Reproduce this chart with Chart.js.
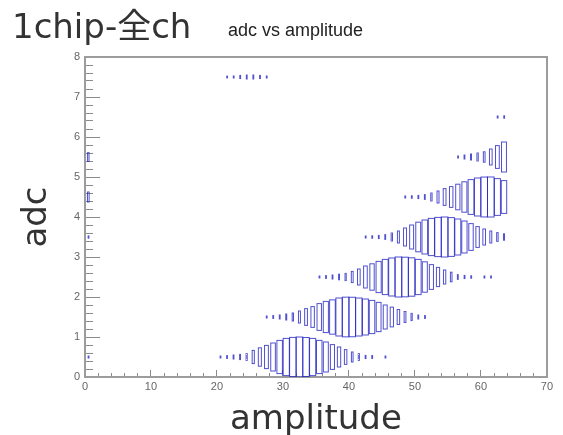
<!DOCTYPE html>
<html>
<head>
<meta charset="utf-8">
<script src="https://cdn.jsdelivr.net/npm/chart.js@4.4.0/dist/chart.umd.min.js"></script>
<style>
html, body { margin: 0; padding: 0; background: #fff; }
#wrap { position: relative; width: 563px; height: 435px; overflow: hidden; background: #fff; }
#wrap canvas { position: absolute; left: 0; top: 0; }
.slide-title { position: absolute; left: 12px; top: 9px; font: 34px/34px "DejaVu Sans", "Noto Sans CJK JP", sans-serif; color: #333; white-space: nowrap; }
.hist-title { position: absolute; left: 228px; top: 21px; font: 18px/18px "Liberation Sans", Arial, sans-serif; color: #222; white-space: nowrap; }
</style>
</head>
<body>
<div id="wrap">
  <canvas id="c" width="563" height="435"></canvas>
  <div class="slide-title">1chip-全ch</div>
  <div class="hist-title">adc vs amplitude</div>
</div>
<script>
// Axis ranges and labelled ticks
const amplitudeRange = [0, 70];
const adcRange = [0, 8];
const amplitudeTicks = [0, 10, 20, 30, 40, 50, 60, 70];
const adcTicks = [0, 1, 2, 3, 4, 5, 6, 7, 8];

// Histogram contents: first amplitude bin of each adc row (rows 0..7),
// followed by the counts in consecutive unit-wide amplitude bins.
const adcRowStart = [20, 27, 35, 42, 48, 56, 62, 21];
const adc0 = [4, 8, 16, 27, 46, 174, 339, 538, 784, 1102, 1384, 1537, 1600, 1522, 1384, 1102, 900, 615, 400, 219, 100, 46, 10, 8, 0, 4];
const adc1 = [4, 8, 16, 36, 64, 144, 282, 433, 718, 973, 1176, 1444, 1575, 1560, 1444, 1296, 1102, 855, 576, 390, 225, 120, 52, 16, 8];
const adc2 = [4, 8, 16, 31, 52, 125, 256, 484, 697, 973, 1239, 1444, 1600, 1568, 1475, 1239, 924, 615, 369, 196, 92, 23, 10, 6, 0, 4, 4];
const adc3 = [4, 6, 10, 23, 64, 144, 324, 576, 876, 1156, 1384, 1537, 1600, 1505, 1296, 1024, 718, 433, 256, 144, 77, 41];
const adc4 = [4, 6, 10, 23, 64, 144, 282, 433, 655, 924, 1211, 1444, 1590, 1600, 1354, 1076];
const adc5 = [4, 16, 36, 64, 108, 256, 520, 900];
const adc6 = [4, 6];
const adc7 = [3, 4, 10, 16, 16, 10, 4];
const adcRows = [adc0, adc1, adc2, adc3, adc4, adc5, adc6, adc7];
// Contents of amplitude bin 0 for adc rows 0..7
const amplitudeBin0 = [4, 0, 0, 5, 100, 77, 0, 0];

// One point per filled bin, at the bin centre
const binPoints = [];
adcRows.forEach((row, adc) => {
  row.forEach((count, k) => {
    if (count > 0) binPoints.push({ x: adcRowStart[adc] + k + 0.5, y: adc + 0.5, count });
  });
});
amplitudeBin0.forEach((count, adc) => {
  if (count > 0) binPoints.push({ x: 0.5, y: adc + 0.5, count });
});
const zMax = Math.max(...binPoints.map(p => p.count));

// Minor tick positions
const amplitudeMinor = Array.from({ length: 36 }, (_, i) => i * 2);
const adcMinor = Array.from({ length: 41 }, (_, i) => Math.round(i * 2) / 10);

// Box option: each bin drawn as a hollow box whose area scales with its content
const binBoxes = {
  id: 'binBoxes',
  afterDatasetsDraw(chart) {
    const { ctx, chartArea, scales } = chart;
    const xs = scales.x, ys = scales.y;
    const ds = chart.data.datasets[0];
    ctx.save();
    ctx.beginPath();
    ctx.rect(chartArea.left, chartArea.top, chartArea.right - chartArea.left, chartArea.bottom - chartArea.top);
    ctx.clip();
    ctx.strokeStyle = ds.borderColor;
    ctx.lineWidth = ds.borderWidth;
    ds.data.forEach(p => {
      const half = Math.sqrt(p.count / zMax) / 2;
      const x0 = xs.getPixelForValue(p.x - half);
      const x1 = xs.getPixelForValue(p.x + half);
      const y0 = ys.getPixelForValue(p.y + half);
      const y1 = ys.getPixelForValue(p.y - half);
      ctx.strokeRect(x0, y0, Math.max(x1 - x0, 0.8), Math.max(y1 - y0, 0.8));
    });
    ctx.restore();
  }
};

const frameGrey = '#9c9c9c';
const tickGrey = '#8a8a8a';
const labelFont = { family: "'Liberation Sans', Arial, sans-serif", size: 11 };
const axisTitleFont = { family: "'DejaVu Sans', sans-serif", size: 34, lineHeight: 0.9 };
const setTicks = values => scale => { scale.ticks = values.map(v => ({ value: v })); };

new Chart(document.getElementById('c'), {
  type: 'scatter',
  data: {
    datasets: [{
      label: 'adc vs amplitude',
      data: binPoints,
      pointRadius: 0,
      pointHoverRadius: 0,
      borderColor: 'rgba(36, 36, 196, 0.8)',
      borderWidth: 1
    }]
  },
  options: {
    responsive: false,
    animation: false,
    devicePixelRatio: 1,
    events: [],
    layout: { padding: { top: 57, right: 7, left: 0, bottom: 0 } },
    plugins: { legend: { display: false }, tooltip: { enabled: false } },
    scales: {
      x: {
        type: 'linear', axis: 'x', position: 'bottom', weight: 0,
        min: amplitudeRange[0], max: amplitudeRange[1],
        afterBuildTicks: setTicks(amplitudeTicks),
        afterFit: s => { s.height = 58; },
        grid: { drawOnChartArea: false, drawTicks: true, tickLength: -7, tickColor: tickGrey, tickWidth: 1 },
        border: { display: true, color: frameGrey, width: 2 },
        ticks: { padding: 10, color: '#666', font: labelFont, autoSkip: false, maxRotation: 0 },
        title: { display: true, text: 'amplitude', font: axisTitleFont, color: '#333', padding: { top: 0, bottom: 0 } }
      },
      xMinor: {
        type: 'linear', axis: 'x', position: 'bottom', weight: -1,
        min: amplitudeRange[0], max: amplitudeRange[1],
        afterBuildTicks: setTicks(amplitudeMinor),
        afterFit: s => { s.height = 0; },
        grid: { drawOnChartArea: false, drawTicks: true, tickLength: -4, tickColor: tickGrey, tickWidth: 1 },
        border: { display: false },
        ticks: { display: false, autoSkip: false }
      },
      xTop: {
        type: 'linear', axis: 'x', position: 'top',
        min: amplitudeRange[0], max: amplitudeRange[1],
        afterFit: s => { s.height = 0; },
        grid: { drawOnChartArea: false, drawTicks: false },
        border: { display: true, color: frameGrey, width: 2 },
        ticks: { display: false }
      },
      y: {
        type: 'linear', axis: 'y', position: 'left', weight: 0,
        min: adcRange[0], max: adcRange[1],
        afterBuildTicks: setTicks(adcTicks),
        afterFit: s => { s.width = 85; },
        grid: { drawOnChartArea: false, drawTicks: true, tickLength: -15, tickColor: tickGrey, tickWidth: 1 },
        border: { display: true, color: frameGrey, width: 2 },
        ticks: { padding: 20, color: '#666', font: labelFont, autoSkip: false },
        title: { display: true, text: 'adc', font: axisTitleFont, color: '#333', padding: { top: 22, bottom: 0 } }
      },
      yMinor: {
        type: 'linear', axis: 'y', position: 'left', weight: -1,
        min: adcRange[0], max: adcRange[1],
        afterBuildTicks: setTicks(adcMinor),
        afterFit: s => { s.width = 0; },
        grid: { drawOnChartArea: false, drawTicks: true, tickLength: -8, tickColor: tickGrey, tickWidth: 1 },
        border: { display: false },
        ticks: { display: false, autoSkip: false }
      },
      yRight: {
        type: 'linear', axis: 'y', position: 'right',
        min: adcRange[0], max: adcRange[1],
        afterFit: s => { s.width = 0; },
        grid: { drawOnChartArea: false, drawTicks: false },
        border: { display: true, color: frameGrey, width: 2 },
        ticks: { display: false }
      }
    }
  },
  plugins: [binBoxes]
});
</script>
</body>
</html>
